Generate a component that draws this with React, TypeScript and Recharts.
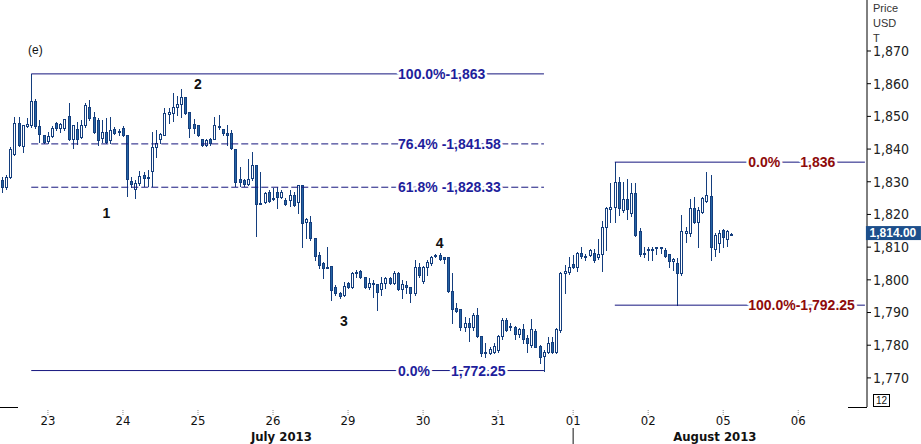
import React from 'react'
import { ComposedChart, Bar, XAxis, YAxis, ReferenceLine, ReferenceDot } from 'recharts'

// 80-minute candles, 22 Jul - 5 Aug 2013: [open, high, low, close]
const candles: [number, number, number, number][] = [
    [1830.6, 1831.5, 1826.9, 1828.4], [1828.4, 1832.1, 1827.8, 1831.5], [1831.5, 1840.6, 1831.2, 1840.0],
    [1838.5, 1849.8, 1838.2, 1848.0], [1848.0, 1849.8, 1841.0, 1841.3], [1841.0, 1847.4, 1839.1, 1847.4],
    [1847.1, 1849.5, 1846.8, 1847.7], [1847.4, 1863.0, 1846.8, 1854.7], [1854.7, 1855.3, 1846.5, 1847.1],
    [1847.1, 1848.9, 1842.2, 1844.6], [1844.3, 1844.3, 1841.9, 1842.2], [1842.5, 1845.2, 1841.9, 1844.0],
    [1844.0, 1847.1, 1843.7, 1846.5], [1848.0, 1848.3, 1845.8, 1846.5], [1846.5, 1848.0, 1845.2, 1847.7],
    [1846.5, 1849.2, 1845.8, 1849.2], [1850.1, 1854.1, 1842.8, 1843.1], [1843.1, 1847.4, 1840.3, 1847.4],
    [1846.1, 1848.3, 1841.6, 1843.1], [1843.7, 1848.9, 1843.4, 1847.4], [1847.4, 1854.1, 1846.8, 1853.5],
    [1852.9, 1855.0, 1848.9, 1849.5], [1849.8, 1851.3, 1844.9, 1845.2], [1848.9, 1849.5, 1841.3, 1842.8],
    [1843.4, 1848.9, 1842.2, 1845.2], [1845.2, 1849.5, 1841.9, 1842.2], [1842.8, 1849.8, 1841.9, 1845.8],
    [1846.1, 1846.8, 1844.6, 1844.9], [1845.5, 1846.1, 1844.3, 1845.2], [1846.5, 1847.1, 1844.0, 1844.3],
    [1844.3, 1844.3, 1825.7, 1830.9], [1830.2, 1831.5, 1828.4, 1829.3], [1827.8, 1830.6, 1825.0, 1829.6],
    [1829.6, 1833.3, 1829.0, 1831.8], [1832.1, 1833.0, 1828.7, 1831.2], [1831.2, 1833.6, 1828.7, 1831.5],
    [1833.3, 1845.2, 1828.7, 1840.6], [1840.6, 1845.8, 1837.6, 1841.9], [1843.1, 1844.9, 1841.9, 1844.6],
    [1844.3, 1852.6, 1844.3, 1851.0], [1850.7, 1852.6, 1848.0, 1851.3], [1851.0, 1857.2, 1848.6, 1852.9],
    [1852.9, 1856.3, 1850.4, 1853.8], [1853.8, 1858.4, 1849.8, 1856.0], [1856.0, 1856.0, 1850.7, 1851.0],
    [1851.3, 1851.3, 1843.7, 1846.5], [1847.7, 1849.2, 1844.9, 1846.5], [1847.4, 1847.4, 1844.0, 1844.3],
    [1843.1, 1843.1, 1841.0, 1841.3], [1841.3, 1843.1, 1841.0, 1842.8], [1843.1, 1843.4, 1841.3, 1841.9],
    [1843.1, 1849.8, 1843.1, 1847.4], [1846.8, 1850.4, 1846.1, 1847.1], [1846.1, 1846.1, 1844.3, 1844.9],
    [1844.9, 1847.4, 1841.3, 1844.3], [1844.9, 1845.8, 1840.0, 1840.3], [1840.0, 1840.0, 1828.7, 1829.9],
    [1830.9, 1834.5, 1828.7, 1829.9], [1830.6, 1830.9, 1828.7, 1829.3], [1829.3, 1837.0, 1829.0, 1830.9],
    [1831.2, 1839.1, 1830.6, 1835.1], [1835.1, 1835.1, 1813.4, 1823.2], [1823.2, 1833.0, 1823.2, 1823.5],
    [1823.8, 1826.9, 1823.5, 1826.6], [1826.9, 1827.5, 1823.8, 1824.1], [1824.7, 1828.1, 1824.4, 1825.0],
    [1826.9, 1828.4, 1822.0, 1825.4], [1825.4, 1827.5, 1825.0, 1826.9], [1824.4, 1825.0, 1822.9, 1823.2],
    [1824.4, 1827.5, 1822.6, 1826.0], [1826.0, 1826.9, 1822.6, 1822.9], [1823.8, 1829.0, 1820.5, 1829.0],
    [1829.0, 1829.0, 1810.1, 1817.4], [1817.7, 1818.9, 1812.8, 1818.6], [1817.7, 1819.5, 1812.2, 1812.8],
    [1812.8, 1812.8, 1806.1, 1807.3], [1807.6, 1808.5, 1803.6, 1804.6], [1805.2, 1805.5, 1800.6, 1803.6],
    [1803.6, 1810.1, 1803.6, 1803.9], [1804.2, 1804.2, 1793.9, 1796.9], [1797.8, 1798.4, 1795.4, 1796.0],
    [1796.0, 1796.3, 1794.5, 1795.1], [1795.4, 1799.4, 1795.1, 1798.1], [1799.1, 1799.4, 1797.5, 1797.8],
    [1797.8, 1802.4, 1797.5, 1802.1], [1802.1, 1803.0, 1800.9, 1802.4], [1802.7, 1803.0, 1800.6, 1800.9],
    [1800.9, 1800.9, 1797.5, 1797.8], [1797.8, 1800.6, 1797.2, 1799.1], [1798.8, 1800.0, 1794.8, 1799.1],
    [1798.8, 1798.8, 1790.8, 1796.3], [1797.2, 1800.9, 1795.4, 1799.1], [1799.1, 1800.9, 1797.5, 1800.6],
    [1800.6, 1800.9, 1798.8, 1799.1], [1799.1, 1802.7, 1798.8, 1802.1], [1802.1, 1802.4, 1796.9, 1797.2],
    [1797.2, 1800.0, 1794.5, 1798.8], [1798.4, 1799.7, 1796.0, 1797.8], [1797.8, 1797.8, 1793.2, 1796.0],
    [1796.0, 1806.1, 1795.4, 1803.9], [1803.9, 1805.2, 1800.9, 1801.5], [1799.7, 1804.2, 1799.1, 1803.9],
    [1803.9, 1806.1, 1801.5, 1805.5], [1805.2, 1807.3, 1804.6, 1807.0], [1807.3, 1807.9, 1807.0, 1807.6],
    [1807.6, 1808.2, 1806.1, 1806.4], [1807.0, 1807.0, 1805.2, 1806.4], [1807.0, 1807.0, 1796.3, 1796.6],
    [1796.6, 1802.1, 1786.8, 1791.1], [1791.4, 1792.9, 1790.2, 1790.5], [1791.1, 1791.1, 1784.7, 1785.6],
    [1785.6, 1788.7, 1784.4, 1786.8], [1786.8, 1788.3, 1781.3, 1785.6], [1785.6, 1789.9, 1784.7, 1789.3],
    [1789.3, 1791.4, 1782.5, 1782.8], [1782.8, 1782.8, 1776.7, 1777.6], [1777.9, 1780.7, 1776.4, 1777.6],
    [1777.6, 1779.5, 1777.3, 1778.9], [1778.0, 1780.7, 1777.6, 1779.8], [1778.6, 1783.1, 1778.0, 1782.8],
    [1782.8, 1788.3, 1781.9, 1787.7], [1787.7, 1788.3, 1784.4, 1784.7], [1785.9, 1786.8, 1784.7, 1785.6],
    [1785.6, 1785.9, 1781.9, 1783.5], [1783.5, 1785.3, 1782.5, 1785.0], [1785.0, 1786.5, 1780.7, 1781.9],
    [1782.2, 1783.1, 1778.0, 1780.7], [1780.1, 1788.0, 1779.5, 1785.0], [1784.4, 1785.0, 1779.5, 1779.5],
    [1779.8, 1780.1, 1774.6, 1776.4], [1776.7, 1778.6, 1772.25, 1778.0], [1778.0, 1782.5, 1777.6, 1780.7],
    [1781.0, 1782.5, 1777.6, 1778.0], [1778.0, 1785.3, 1777.6, 1785.0], [1784.7, 1802.4, 1784.1, 1802.1],
    [1802.1, 1804.6, 1796.0, 1802.7], [1802.4, 1807.0, 1801.8, 1803.9], [1804.9, 1807.6, 1803.6, 1803.9],
    [1803.9, 1808.5, 1802.7, 1808.2], [1808.2, 1810.1, 1806.7, 1807.3], [1807.0, 1807.9, 1806.1, 1807.3],
    [1807.6, 1809.4, 1807.3, 1809.1], [1808.2, 1809.4, 1805.5, 1806.1], [1807.0, 1812.5, 1806.4, 1807.9],
    [1807.9, 1818.0, 1802.7, 1816.2], [1816.2, 1822.3, 1809.1, 1822.0], [1821.7, 1829.6, 1817.7, 1822.3],
    [1822.3, 1836.0, 1817.7, 1829.9], [1829.9, 1831.5, 1819.8, 1822.0], [1821.4, 1829.9, 1820.8, 1824.7],
    [1824.7, 1830.9, 1818.6, 1821.7], [1820.5, 1829.6, 1819.5, 1826.6], [1826.6, 1829.6, 1813.4, 1813.7],
    [1815.0, 1815.9, 1807.3, 1807.9], [1808.2, 1810.1, 1807.0, 1807.9], [1809.1, 1810.1, 1806.1, 1809.4],
    [1809.4, 1810.1, 1806.1, 1809.1], [1809.7, 1810.1, 1808.0, 1810.1], [1810.1, 1810.1, 1808.2, 1809.7],
    [1809.1, 1809.7, 1807.0, 1807.3], [1807.9, 1807.9, 1803.9, 1805.8], [1805.8, 1806.7, 1803.0, 1806.4],
    [1805.2, 1806.7, 1792.25, 1802.1], [1802.1, 1819.8, 1801.5, 1815.0], [1814.4, 1816.2, 1811.6, 1815.0],
    [1814.4, 1824.7, 1813.4, 1822.0], [1822.0, 1825.3, 1817.4, 1817.7], [1817.7, 1822.3, 1810.1, 1821.4],
    [1820.8, 1825.3, 1820.5, 1825.0], [1824.1, 1833.0, 1823.8, 1826.0], [1825.7, 1832.1, 1806.1, 1810.1],
    [1809.4, 1814.4, 1807.3, 1813.7], [1811.3, 1815.3, 1808.5, 1814.4], [1815.3, 1815.6, 1810.1, 1813.1],
    [1812.5, 1815.3, 1810.4, 1815.0], [1814.0, 1814.4, 1813.7, 1814.0],
]

const dayLabels = ['23', '24', '25', '26', '29', '30', '31', '01', '02', '05', '06']
const dayTicks = [11, 29, 47, 65, 83, 101, 119, 137, 155, 173, 191]
const monthLabels = ['July 2013', 'August 2013']
const monthTicks = [67, 171]
const monthBreak = 137
const priceTicks = [1770, 1780, 1790, 1800, 1810, 1820, 1830, 1840, 1850, 1860, 1870]
const lastPrice = 1814.0

// retracement from the (e) high to the 31 Jul low
const fibLeft = [
    { pct: '100.0%', value: 1863, sep: '-', dashed: false },
    { pct: '76.4%', value: 1841.58, sep: ' -', dashed: true },
    { pct: '61.8%', value: 1828.33, sep: ' -', dashed: true },
    { pct: '0.0%', value: 1772.25, sep: null, dashed: false },
]
const fibLeftSpan = [7, 130]
// 1 Aug high to 2 Aug low
const fibRight = [
    { pct: '0.0%', value: 1836, sep: null },
    { pct: '100.0%', value: 1792.25, sep: '-' },
]
const fibRightSpan = [147, 207]

const waves = [
    { text: '(e)', i: 8, v: 1870.3 },
    { text: '1', i: 25, v: 1820.5 },
    { text: '2', i: 47, v: 1859.9 },
    { text: '3', i: 82, v: 1787.4 },
    { text: '4', i: 105, v: 1811.3 },
]

const SLOTS = 208
const data = Array.from({ length: SLOTS }, (_, i) => {
    const c = candles[i]
    return c ? { i, o: c[0], h: c[1], l: c[2], c: c[3] } : { i }
})

const edge = '#143e7e'
const downFill = '#2563a3'
const navy = '#15157e'
const blueText = '#1e1e9c'
const redText = '#8e0b0b'
const narrow = "'Liberation Sans Narrow', 'Arial Narrow', 'DejaVu Sans Condensed', sans-serif"
const sans = "'Liberation Sans', Arial, sans-serif"

const fmt = (v: number) => v.toLocaleString('en-US', { maximumFractionDigits: 2 })

const Candle = (props: any) => {
    const { x, y, width, height, payload } = props
    if (!payload || payload.o == null) return <g />
    const { o, h, l, c } = payload
    const span = h - l
    const py = (v: number) => (span > 0 ? y + ((h - v) / span) * height : y)
    const cx = Math.round(x + width / 2) + 0.5
    const top = Math.round(py(Math.max(o, c))) + 0.5
    const bot = Math.round(py(Math.min(o, c))) + 0.5
    return (
        <g>
            <line x1={cx} x2={cx} y1={Math.round(y)} y2={Math.round(y + height) + 1} stroke={edge} />
            <rect x={cx - 1} y={top} width={2} height={Math.max(bot - top, 1)} fill={c >= o ? '#fff' : downFill} stroke={edge} />
        </g>
    )
}

const halo = (x: number, y: number, text: string, color: string) => (
    <text x={x} y={y} fill={color} stroke='#fff' strokeWidth={5} strokeLinejoin='round'
        style={{ paintOrder: 'stroke' }} fontFamily={sans} fontWeight='bold' fontSize={14} dominantBaseline='central'>
        {text}
    </text>
)

const fibLabel = (pct: string, value: number, sep: string | null, color: string, gap: number) => (p: any) => (
    <g>
        {sep != null
            ? halo(p.cx, p.cy, `${pct}${sep}${fmt(value)}`, color)
            : <>{halo(p.cx, p.cy, pct, color)}{halo(p.cx + gap, p.cy, fmt(value), color)}</>}
    </g>
)

const DayTick = (props: any) => {
    const { x, y, payload } = props
    const k = dayTicks.indexOf(payload.value)
    if (k < 0) return <g />
    return (
        <g>
            <line x1={x} x2={x} y1={y + 3} y2={y + 8} stroke='#888' strokeDasharray='1 1' />
            <text x={x} y={y + 13} textAnchor='middle' dominantBaseline='central' fontFamily={narrow} fontSize={13} fill='#111'>
                {dayLabels[k]}
            </text>
        </g>
    )
}

const MonthTick = (props: any) => {
    const { x, y, payload } = props
    if (payload.value === monthBreak) {
        return <line x1={x} x2={x} y1={y} y2={y + 16} stroke='#111' />
    }
    const k = monthTicks.indexOf(payload.value)
    if (k < 0) return <g />
    return (
        <text x={x} y={y + 8} textAnchor='middle' dominantBaseline='central' fontFamily={narrow} fontWeight='bold' fontSize={13} fill='#111'>
            {monthLabels[k]}
        </text>
    )
}

export default function App() {
    return (
        <div style={{ position: 'absolute', left: 0, top: 0, width: 921, height: 444, background: '#fff', fontFamily: sans }}>
            <ComposedChart width={921} height={444} data={data} margin={{ top: 0, right: 0, bottom: 0, left: 0 }}>
                <XAxis dataKey='i' type='category' height={21} interval={0} axisLine={false} tickLine={false}
                    tickSize={0} tickMargin={0} tick={<DayTick />} />
                <XAxis xAxisId='m' dataKey='i' type='category' height={16} interval={0} axisLine={false} tickLine={false}
                    tickSize={0} tickMargin={0} tick={<MonthTick />} />
                <YAxis orientation='right' width={54} domain={[1761.1, 1885.6]} allowDataOverflow ticks={priceTicks}
                    tickFormatter={fmt} axisLine={{ stroke: '#000' }} tickLine={{ stroke: '#000' }} tickSize={4} tickMargin={2}
                    tick={{ fontFamily: narrow, fontSize: 14, fill: '#222' }} />
                <Bar dataKey={(d: any) => (d.h != null ? [d.l, d.h] : null)} shape={<Candle />} isAnimationActive={false} />

                {fibLeft.map((f) => (
                    <ReferenceLine key={`l${f.value}`} segment={[{ x: fibLeftSpan[0], y: f.value }, { x: fibLeftSpan[1], y: f.value }]}
                        stroke={navy} strokeWidth={1} strokeDasharray={f.dashed ? '7 3' : undefined} />
                ))}
                {fibRight.map((f) => (
                    <ReferenceLine key={`r${f.value}`} segment={[{ x: fibRightSpan[0], y: f.value }, { x: fibRightSpan[1], y: f.value }]}
                        stroke={navy} strokeWidth={1} />
                ))}
                {fibLeft.map((f) => (
                    <ReferenceDot key={`lt${f.value}`} x={95} y={f.value} r={0}
                        shape={fibLabel(f.pct, f.value, f.sep, blueText, 53)} />
                ))}
                {fibRight.map((f) => (
                    <ReferenceDot key={`rt${f.value}`} x={179} y={f.value} r={0}
                        shape={fibLabel(f.pct, f.value, f.sep, redText, 52)} />
                ))}
                {waves.map((w) => (
                    <ReferenceDot key={w.text} x={w.i} y={w.v} r={0} shape={(p: any) => (
                        <text x={p.cx} y={p.cy} textAnchor='middle' dominantBaseline='central' fontFamily={sans}
                            fontWeight={w.text === '(e)' ? 'normal' : 'bold'} fontSize={w.text === '(e)' ? 12 : 14} fill='#111'>
                            {w.text}
                        </text>
                    )} />
                ))}
                <ReferenceDot x={SLOTS - 1} y={lastPrice} r={0} shape={(p: any) => (
                    <g>
                        <rect x={p.cx + 1} y={p.cy - 8} width={55} height={14} fill='#1d4f8b' />
                        <text x={p.cx + 28} y={p.cy - 1} textAnchor='middle' dominantBaseline='central' fontFamily={sans}
                            fontWeight='bold' fontSize={12} fill='#fff'>
                            {lastPrice.toLocaleString('en-US', { minimumFractionDigits: 2 })}
                        </text>
                    </g>
                )} />
            </ComposedChart>

            <div style={{ position: 'absolute', left: 873, top: 1, fontSize: 11, lineHeight: '15px', color: '#333' }}>
                Price<br />USD<br />T
            </div>
            <div style={{ position: 'absolute', left: 873, top: 394, width: 15, height: 11, border: '1px solid #000',
                fontSize: 10, lineHeight: '11px', textAlign: 'center', color: '#111' }}>12</div>
            <div style={{ position: 'absolute', left: 0, top: 407, width: 18, height: 1, background: '#000' }} />
            <div style={{ position: 'absolute', left: 848, top: 407, width: 19, height: 1, background: '#000' }} />
        </div>
    )
}
